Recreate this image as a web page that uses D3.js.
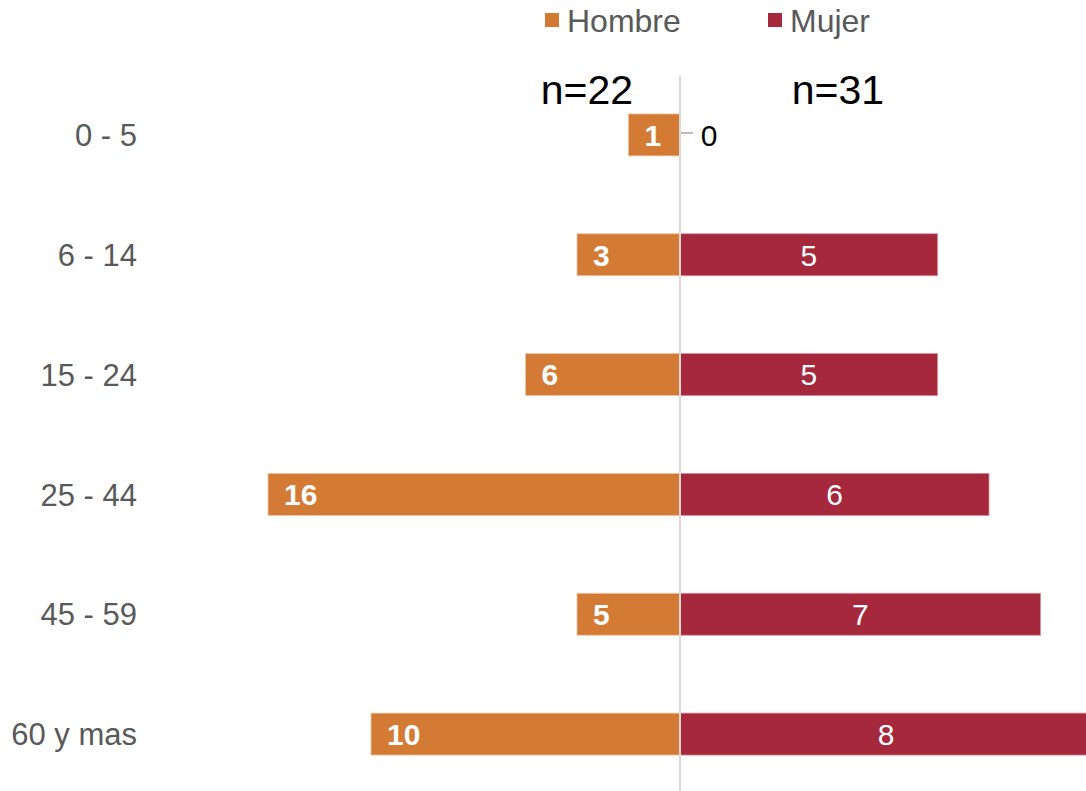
<!DOCTYPE html>
<html>
<head>
<meta charset="utf-8">
<script src="https://cdn.jsdelivr.net/npm/d3@7"></script>
<style>
  body { margin: 0; background: #fff; }
  svg { display: block; font-family: "Liberation Sans", Arial, sans-serif; }
</style>
</head>
<body>
<div id="chart"></div>
<script>
// age groups, top to bottom
var ages = ["0 - 5", "6 - 14", "15 - 24", "25 - 44", "45 - 59", "60 y mas"];
// bar lengths as drawn
var hombre = [1, 2, 3, 8, 2, 6];
// labels shown on the Hombre bars
var hombreLabels = [1, 3, 6, 16, 5, 10];
var mujer = [0, 5, 5, 6, 7, 8];
var groups = ["Hombre", "Mujer"];
var totals = ["n=22", "n=31"];

var width = 1086, height = 791;
var colHombre = "#d37a35", colMujer = "#a5283c";

var svg = d3.select("#chart").append("svg")
    .attr("width", width)
    .attr("height", height);

var x = d3.scaleLinear().domain([-8, 8]).range([268, 1092]);
var y = d3.scaleBand().domain(ages).range([75, 794])
    .paddingInner(0.65).paddingOuter(0.325);

var rows = ages.map(function (a, i) {
    return { age: a, h: hombre[i], hl: hombreLabels[i], m: mujer[i] };
});

// Hombre bars (left)
svg.selectAll(".hbar")
    .data(rows)
    .join("rect")
    .attr("class", "hbar")
    .attr("x", d => x(-d.h))
    .attr("y", d => y(d.age))
    .attr("width", d => x(0) - x(-d.h))
    .attr("height", y.bandwidth())
    .attr("fill", colHombre)
    .attr("stroke", "#f0c4a0")
    .attr("stroke-width", 0.8);

// Mujer bars (right)
svg.selectAll(".mbar")
    .data(rows.filter(d => d.m > 0))
    .join("rect")
    .attr("class", "mbar")
    .attr("x", x(0))
    .attr("y", d => y(d.age))
    .attr("width", d => x(d.m) - x(0))
    .attr("height", y.bandwidth())
    .attr("fill", colMujer)
    .attr("stroke", "#d88a98")
    .attr("stroke-width", 0.8);

// center axis line
svg.append("line")
    .attr("x1", x(0)).attr("x2", x(0))
    .attr("y1", 76).attr("y2", height)
    .attr("stroke", "#d9d9d9")
    .attr("stroke-width", 2);

// Hombre labels
svg.selectAll(".hlab")
    .data(rows)
    .join("text")
    .attr("class", "hlab")
    .attr("x", d => x(-d.h) + 16)
    .attr("y", d => y(d.age) + y.bandwidth() / 2)
    .attr("dy", "0.36em")
    .attr("fill", "#fff")
    .attr("font-weight", "bold")
    .attr("font-size", "30px")
    .text(d => d.hl);

// Mujer labels
svg.selectAll(".mlab")
    .data(rows)
    .join("text")
    .attr("class", "mlab")
    .attr("x", d => d.m > 0 ? (x(0) + x(d.m)) / 2 : x(0) + 29)
    .attr("y", d => y(d.age) + y.bandwidth() / 2)
    .attr("dy", "0.36em")
    .attr("text-anchor", "middle")
    .attr("fill", d => d.m > 0 ? "#fff" : "#000")
    .attr("font-size", "30px")
    .text(d => d.m);

// leader tick for zero value
svg.selectAll(".zero")
    .data(rows.filter(d => d.m === 0))
    .join("line")
    .attr("class", "zero")
    .attr("x1", x(0) + 1).attr("x2", x(0) + 13)
    .attr("y1", d => y(d.age) + y.bandwidth() / 2 - 2)
    .attr("y2", d => y(d.age) + y.bandwidth() / 2 - 2)
    .attr("stroke", "#a6a6a6")
    .attr("stroke-width", 1.5);

// category labels
svg.selectAll(".cat")
    .data(ages)
    .join("text")
    .attr("class", "cat")
    .attr("x", 137)
    .attr("y", d => y(d) + y.bandwidth() / 2)
    .attr("dy", "0.36em")
    .attr("text-anchor", "end")
    .attr("fill", "#595959")
    .attr("font-size", "31px")
    .text(d => d);

// n totals
svg.selectAll(".tot")
    .data(totals)
    .join("text")
    .attr("class", "tot")
    .attr("x", (d, i) => i === 0 ? 587 : 838)
    .attr("y", 104)
    .attr("text-anchor", "middle")
    .attr("fill", "#000")
    .attr("font-size", "41px")
    .text(d => d);

// legend
var leg = svg.selectAll(".leg")
    .data(groups)
    .join("g")
    .attr("class", "leg")
    .attr("transform", (d, i) => "translate(" + (i === 0 ? 545 : 768) + ",13)");
leg.append("rect")
    .attr("width", 14).attr("height", 14)
    .attr("fill", (d, i) => i === 0 ? colHombre : colMujer);
leg.append("text")
    .attr("x", 22)
    .attr("y", 7)
    .attr("dy", "0.36em")
    .attr("fill", "#595959")
    .attr("font-size", "32px")
    .text(d => d);
</script>
</body>
</html>
